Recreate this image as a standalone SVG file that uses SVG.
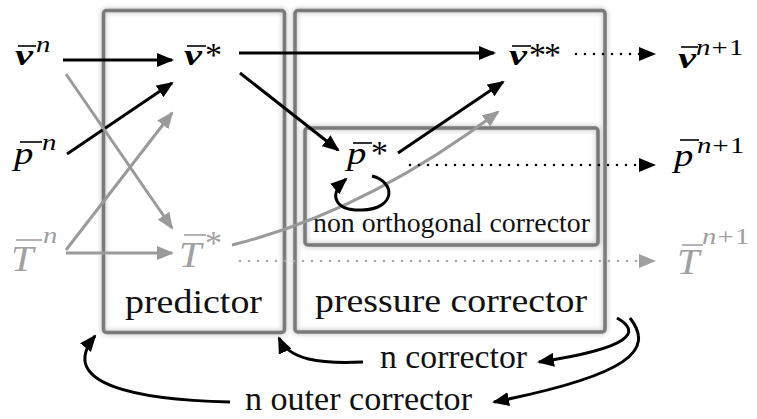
<svg xmlns="http://www.w3.org/2000/svg" width="757" height="419" viewBox="0 0 757 419" font-family="Liberation Serif, DejaVu Serif, serif">
<style>
.box{fill:none;stroke:#7a7a7a;stroke-width:3.5;stroke-linejoin:round}
.glow{fill:none;stroke:#9a9a9a;stroke-width:6;opacity:0.45}
.blk{fill:none;stroke:#000;stroke-width:3}
.gry{fill:none;stroke:#9a9a9a;stroke-width:3}
.dotb{fill:none;stroke:#000;stroke-width:2.6;stroke-dasharray:0 9;stroke-linecap:round}
.dotg{fill:none;stroke:#a8a8a8;stroke-width:2.6;stroke-dasharray:0 9;stroke-linecap:round}
.m{font-style:italic;font-size:31px}
.mT{font-style:italic;font-size:36px;fill:#a0a0a0}
.mb{font-style:italic;font-weight:bold;font-size:30px}
.sup{font-style:italic;font-size:23px}
.supr{font-style:normal}
.star{font-size:34px}
.t{font-size:34px;fill:#111}
.ts{font-size:27px;fill:#111}
.bar{stroke:#000;stroke-width:1.6}
.barg{stroke:#a0a0a0;stroke-width:1.6}
.g{fill:#a0a0a0}
</style>
<defs>
<filter id="blur" x="-5%" y="-5%" width="110%" height="110%"><feGaussianBlur stdDeviation="2"/></filter>
<marker id="ab" markerUnits="userSpaceOnUse" markerWidth="18" markerHeight="14" refX="15" refY="7" orient="auto"><path d="M0,0 L17,7 L0,14 z" fill="#000"/></marker>
<marker id="ag" markerUnits="userSpaceOnUse" markerWidth="18" markerHeight="14" refX="15" refY="7" orient="auto"><path d="M0,0 L17,7 L0,14 z" fill="#9a9a9a"/></marker>
<marker id="ad" markerUnits="userSpaceOnUse" markerWidth="18" markerHeight="14" refX="1" refY="7" orient="auto"><path d="M0,0 L17,7 L0,14 z" fill="#000"/></marker>
<marker id="adg" markerUnits="userSpaceOnUse" markerWidth="18" markerHeight="14" refX="1" refY="7" orient="auto"><path d="M0,0 L17,7 L0,14 z" fill="#a0a0a0"/></marker>
</defs>
<rect width="757" height="419" fill="#fff"/>

<g id="predictor">
<rect class="glow" x="103.5" y="10.5" width="181" height="322" rx="3" filter="url(#blur)"/>
<rect class="box" x="103.5" y="10.5" width="181" height="322" rx="3"/>
<text class="t" x="125" y="313" textLength="137" lengthAdjust="spacingAndGlyphs">predictor</text>
</g>
<g id="pressure-corrector">
<rect class="glow" x="295" y="10.5" width="310" height="321.5" rx="3" filter="url(#blur)"/>
<rect class="box" x="295" y="10.5" width="310" height="321.5" rx="3"/>
<text class="t" x="315" y="312" textLength="272" lengthAdjust="spacingAndGlyphs">pressure corrector</text>
</g>
<g id="non-orthogonal-corrector">
<rect class="glow" x="305" y="128" width="293" height="117" rx="3" filter="url(#blur)"/>
<rect class="box" x="305" y="128" width="293" height="117" rx="3"/>
<text class="ts" x="313" y="232" textLength="277" lengthAdjust="spacingAndGlyphs">non orthogonal corrector</text>
</g>

<g id="connectors">
<line class="blk" x1="63" y1="60" x2="172" y2="60" marker-end="url(#ab)"/>
<line class="blk" x1="67" y1="154" x2="172" y2="83" marker-end="url(#ab)"/>
<line class="blk" x1="239" y1="53" x2="494" y2="53" marker-end="url(#ab)"/>
<line class="blk" x1="240" y1="73" x2="338" y2="150" marker-end="url(#ab)"/>
<line class="blk" x1="398" y1="153" x2="503" y2="82" marker-end="url(#ab)"/>
<line class="gry" x1="66" y1="253" x2="172" y2="253" marker-end="url(#ag)"/>
<line class="gry" x1="66" y1="250" x2="172" y2="113" marker-end="url(#ag)"/>
<line class="gry" x1="66" y1="74" x2="172" y2="228" marker-end="url(#ag)"/>
<path class="gry" d="M232,245 Q365,212 498,112" marker-end="url(#ag)"/>
<line class="dotb" x1="576" y1="54" x2="640" y2="54" marker-end="url(#ad)"/>
<line class="dotb" x1="410" y1="165" x2="640" y2="165" marker-end="url(#ad)"/>
<line class="dotg" x1="240" y1="261" x2="640" y2="261" marker-end="url(#adg)"/>
<path class="blk" d="M372,176 C396,182 396,209 362,210 C336,211 327,196 346,179" marker-end="url(#ab)"/>
<path class="blk" d="M617,318 C642,332 632,348 539,362" marker-end="url(#ab)"/>
<path class="blk" d="M630,318 C655,350 630,375 494,402" marker-end="url(#ab)"/>
<path class="blk" d="M363,362 C320,364 289,360 279,338" marker-end="url(#ab)"/>
<path class="blk" d="M230,402 C140,400 55,385 95,336" marker-end="url(#ab)"/>
</g>

<g id="v-n"><line class="bar" x1="18" y1="46" x2="36" y2="46"/><text class="mb" transform="translate(15,65) scale(1.35,1)">v</text><text class="sup" transform="translate(36,52) scale(1.25,1)">n</text></g>
<g id="v-star"><line class="bar" x1="187" y1="46" x2="206" y2="46"/><text class="mb" transform="translate(184,65) scale(1.35,1)">v</text><text class="star" x="205" y="66">*</text></g>
<g id="v-starstar"><line class="bar" x1="512" y1="46" x2="531" y2="46"/><text class="mb" transform="translate(509,65) scale(1.35,1)">v</text><text class="star" x="529" y="66" letter-spacing="-2">**</text></g>
<g id="v-n1"><line class="bar" x1="681" y1="47" x2="698" y2="47"/><text class="mb" transform="translate(678,68) scale(1.35,1)">v</text><text class="sup" transform="translate(696,55) scale(1.25,1)" letter-spacing="1">n<tspan class="supr">+1</tspan></text></g>
<g id="p-n"><line class="bar" x1="20" y1="142" x2="42" y2="142"/><text class="m" transform="translate(14,164) scale(1.25,1)">p</text><text class="sup" transform="translate(42,150) scale(1.25,1)">n</text></g>
<g id="p-star"><line class="bar" x1="353" y1="143" x2="372" y2="143"/><text class="m" transform="translate(347,164) scale(1.25,1)">p</text><text class="star" x="371" y="164">*</text></g>
<g id="p-n1"><line class="bar" x1="680" y1="140" x2="699" y2="140"/><text class="m" transform="translate(674,166) scale(1.25,1)">p</text><text class="sup" transform="translate(697,153) scale(1.25,1)" letter-spacing="1">n<tspan class="supr">+1</tspan></text></g>
<g id="T-n"><line class="barg" x1="16" y1="240" x2="42" y2="240"/><text class="mT" transform="translate(11,271) scale(1.12,1)">T</text><text class="sup g" transform="translate(43,243) scale(1.25,1)">n</text></g>
<g id="T-star"><line class="barg" x1="184" y1="235" x2="206" y2="235"/><text class="mT" transform="translate(179,267) scale(1.12,1)">T</text><text class="star g" x="205" y="254">*</text></g>
<g id="T-n1"><line class="barg" x1="682" y1="245" x2="703" y2="245"/><text class="mT" transform="translate(677,274) scale(1.12,1)">T</text><text class="sup g" transform="translate(702,244) scale(1.25,1)" letter-spacing="1">n<tspan class="supr">+1</tspan></text></g>

<g id="label-n-corrector"><text class="t" x="380" y="368" textLength="147" lengthAdjust="spacingAndGlyphs">n corrector</text></g>
<g id="label-n-outer-corrector"><text class="t" x="245" y="410" textLength="227" lengthAdjust="spacingAndGlyphs">n outer corrector</text></g>
</svg>
